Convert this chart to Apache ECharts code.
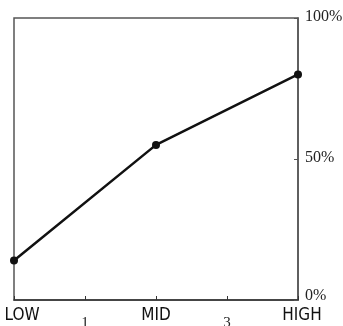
<!DOCTYPE html>
<html><head><meta charset="utf-8">
<script src="https://cdn.jsdelivr.net/npm/echarts@6/dist/echarts.min.js"></script>
<style>html,body{margin:0;padding:0;background:#fff}#c{width:343px;height:326px}</style>
</head><body><div id="c"></div>
<script>
const categories = ['LOW', '1', 'MID', '3', 'HIGH'];
const values = [14, null, 55, null, 80];
const yTicks = [0, 50, 100];

const chart = echarts.init(document.getElementById('c'), null, {renderer: 'canvas'});
chart.setOption({
  animation: false,
  grid: {left: 14, right: 45, top: 18, bottom: 26, show: true, borderColor: '#555', borderWidth: 1.5, outerBoundsMode: 'none', containLabel: false},
  xAxis: {
    type: 'category', data: categories, boundaryGap: false,
    axisLine: {lineStyle: {color: '#333', width: 1.5}},
    axisTick: {inside: true, length: 4, lineStyle: {color: '#333'}},
    axisLabel: {
      margin: 7, hideOverlap: false,
      formatter: function (v) {
        if (v === 'LOW') return '{lo|' + v + '}';
        if (v === 'HIGH') return '{hi|' + v + '}';
        return isNaN(+v) ? '{w|' + v + '}' : '{n|' + v + '}';
      },
      rich: {
        w: {fontFamily: '"Liberation Sans Narrow", "DejaVu Sans Condensed", "Liberation Sans"', fontSize: 17, color: '#111'},
        lo: {fontFamily: '"Liberation Sans Narrow", "DejaVu Sans Condensed", "Liberation Sans"', fontSize: 17, color: '#111', padding: [0, 0, 0, 16]},
        hi: {fontFamily: '"Liberation Sans Narrow", "DejaVu Sans Condensed", "Liberation Sans"', fontSize: 17, color: '#111', padding: [0, 0, 0, 8]},
        n: {fontFamily: 'Liberation Serif', fontSize: 15, color: '#222', padding: [9, 0, 0, 0]}
      }
    },
    splitLine: {show: false}
  },
  yAxis: {
    type: 'value', position: 'right', min: 0, max: 100, interval: 50,
    axisLine: {show: true, lineStyle: {color: '#555', width: 1.5}},
    axisTick: {show: true, inside: true, length: 4, lineStyle: {color: '#555'}},
    axisLabel: {
      margin: 7, color: '#222',
      formatter: function (v) {
        if (yTicks.indexOf(v) < 0) return '';
        return v === 0 ? '{z|' + v + '%}' : '{p|' + v + '%}';
      },
      rich: {
        p: {fontFamily: 'Liberation Serif', fontSize: 16, color: '#222', padding: [0, 0, 2, 0]},
        z: {fontFamily: 'Liberation Serif', fontSize: 16, color: '#222', padding: [0, 0, 8, 0]}
      }
    },
    splitLine: {show: false}
  },
  series: [{
    type: 'line', data: values, connectNulls: true,
    lineStyle: {color: '#111', width: 2.5},
    itemStyle: {color: '#111'},
    symbol: 'circle', symbolSize: 8
  }]
});
</script></body></html>
